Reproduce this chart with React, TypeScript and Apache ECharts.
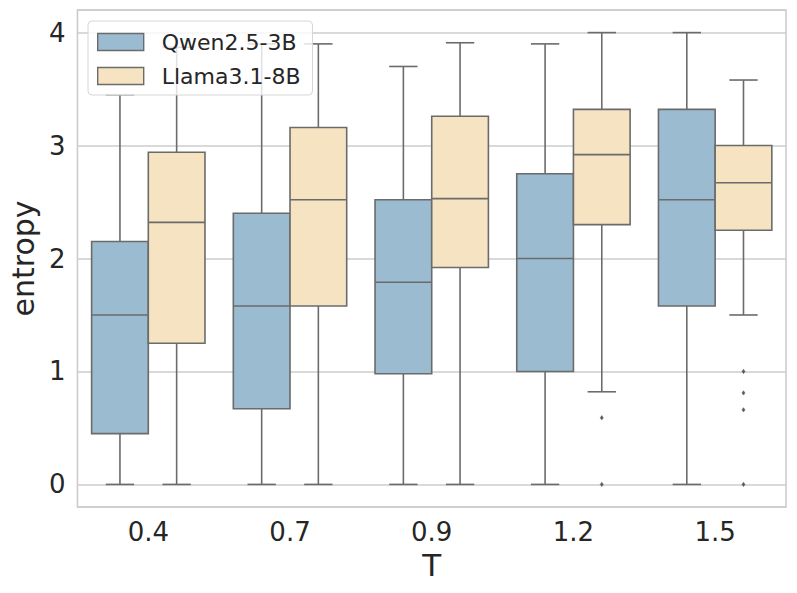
import React, { useEffect, useRef } from "react";
import * as echarts from "echarts";

const categories = ["0.4", "0.7", "0.9", "1.2", "1.5"];
const seriesNames = ["Qwen2.5-3B", "Llama3.1-8B"];
// [min, Q1, median, Q3, max] per category
const qwenBoxes = [
  [0, 0.45, 1.5, 2.15, 3.45],
  [0, 0.67, 1.58, 2.4, 3.9],
  [0, 0.98, 1.79, 2.52, 3.7],
  [0, 1.0, 2.0, 2.75, 3.9],
  [0, 1.58, 2.52, 3.32, 4.0],
];
const llamaBoxes = [
  [0, 1.25, 2.32, 2.94, 3.87],
  [0, 1.58, 2.52, 3.16, 3.9],
  [0, 1.92, 2.53, 3.26, 3.91],
  [0.82, 2.3, 2.92, 3.32, 4.0],
  [1.5, 2.25, 2.67, 3.0, 3.58],
];
// [categoryIndex, value]
const qwenOutliers: number[][] = [];
const llamaOutliers = [
  [3, 0.59],
  [3, 0],
  [4, 1.0],
  [4, 0.81],
  [4, 0.66],
  [4, 0],
];

const COLORS = ["#9abbd0", "#f5e3c1"];
const EDGE = "#6b6b6b";
const FONT = "DejaVu Sans";

function boxRender(offsetFrac: number, fill: string) {
  return (params: any, api: any) => {
    const cat = api.value(0);
    const bw = api.size([1, 0])[0];
    const cx = api.coord([cat, 0])[0] + offsetFrac * bw;
    const half = 0.2 * bw;
    const capHalf = 0.1 * bw;
    const y = (i: number) => api.coord([cat, api.value(i)])[1];
    const yMin = y(1), yQ1 = y(2), yMed = y(3), yQ3 = y(4), yMax = y(5);
    const ls = { stroke: EDGE, lineWidth: 1.6 };
    return {
      type: "group",
      children: [
        { type: "line", shape: { x1: cx, y1: yQ1, x2: cx, y2: yMin }, style: ls },
        { type: "line", shape: { x1: cx, y1: yQ3, x2: cx, y2: yMax }, style: ls },
        { type: "line", shape: { x1: cx - capHalf, y1: yMin, x2: cx + capHalf, y2: yMin }, style: ls },
        { type: "line", shape: { x1: cx - capHalf, y1: yMax, x2: cx + capHalf, y2: yMax }, style: ls },
        {
          type: "rect",
          shape: { x: cx - half, y: yQ3, width: 2 * half, height: yQ1 - yQ3 },
          style: { fill, stroke: EDGE, lineWidth: 1.6 },
        },
        { type: "line", shape: { x1: cx - half, y1: yMed, x2: cx + half, y2: yMed }, style: ls },
      ],
    };
  };
}

function outlierRender(offsetFrac: number) {
  return (params: any, api: any) => {
    const cat = api.value(0);
    const bw = api.size([1, 0])[0];
    const p = api.coord([cat, api.value(1)]);
    const cx = p[0] + offsetFrac * bw;
    const cy = p[1];
    const r = 2.2;
    return {
      type: "polygon",
      shape: { points: [[cx, cy - r], [cx + r * 0.7, cy], [cx, cy + r], [cx - r * 0.7, cy]] },
      style: { fill: "#5a5a5a", stroke: "#5a5a5a", lineWidth: 0.5 },
    };
  };
}

export default function App() {
  const ref = useRef<HTMLDivElement>(null);
  useEffect(() => {
    if (!ref.current) return;
    const chart = echarts.init(ref.current, undefined, { renderer: "svg" });
    const toData = (boxes: number[][]) => boxes.map((b, i) => [i, ...b]);
    chart.setOption({
      animation: false,
      backgroundColor: "#ffffff",
      grid: {
        left: 77,
        top: 10,
        right: 11,
        bottom: 86,
        show: true,
        borderColor: "#cccccc",
        borderWidth: 1.6,
      },
      legend: {
        orient: "vertical",
        left: 88,
        top: 21,
        padding: [10, 12, 8, 9],
        itemWidth: 46,
        itemHeight: 17,
        itemGap: 12,
        backgroundColor: "rgba(255,255,255,0.8)",
        borderColor: "#d6d6d6",
        borderWidth: 1,
        borderRadius: 4,
        textStyle: { fontFamily: FONT, fontSize: 22, color: "#262626", padding: [0, 0, 0, 13], lineHeight: 21 },
        data: seriesNames.map((n, i) => ({
          name: n,
          icon: "rect",
          itemStyle: { color: COLORS[i], borderColor: EDGE, borderWidth: 1.4 },
        })),
      },
      xAxis: {
        type: "category",
        data: categories,
        boundaryGap: true,
        axisLine: { show: false },
        axisTick: { show: false },
        splitLine: { show: false },
        axisLabel: { fontFamily: FONT, fontSize: 26, color: "#262626", margin: 12 },
        name: "T",
        nameLocation: "middle",
        nameGap: 42,
        nameTextStyle: { fontFamily: FONT, fontSize: 31, color: "#262626" },
      },
      yAxis: {
        type: "value",
        min: -0.2,
        max: 4.2,
        axisLine: { show: false },
        axisTick: { show: false },
        splitLine: { show: true, lineStyle: { color: "#cccccc", width: 1.6 } },
        axisLabel: {
          fontFamily: FONT,
          fontSize: 26,
          color: "#262626",
          margin: 12,
          showMinLabel: false,
          showMaxLabel: false,
          formatter: (v: number) => (Math.abs(v - Math.round(v)) < 1e-9 ? String(Math.round(v)) : ""),
        },
        name: "entropy",
        nameLocation: "middle",
        nameGap: 34,
        nameTextStyle: { fontFamily: FONT, fontSize: 30, color: "#262626" },
      },
      series: [
        {
          name: seriesNames[0],
          type: "custom",
          itemStyle: { color: COLORS[0] },
          renderItem: boxRender(-0.2, COLORS[0]),
          encode: { x: 0, y: [1, 2, 3, 4, 5] },
          data: toData(qwenBoxes),
          z: 3,
        },
        {
          name: seriesNames[1],
          type: "custom",
          itemStyle: { color: COLORS[1] },
          renderItem: boxRender(0.2, COLORS[1]),
          encode: { x: 0, y: [1, 2, 3, 4, 5] },
          data: toData(llamaBoxes),
          z: 3,
        },
        {
          name: seriesNames[0] + "-out",
          type: "custom",
          renderItem: outlierRender(-0.2),
          encode: { x: 0, y: 1 },
          data: qwenOutliers,
          z: 3,
        },
        {
          name: seriesNames[1] + "-out",
          type: "custom",
          renderItem: outlierRender(0.2),
          encode: { x: 0, y: 1 },
          data: llamaOutliers,
          z: 3,
        },
      ],
    });
    return () => chart.dispose();
  }, []);
  return (
    <div
      ref={ref}
      style={{ position: "fixed", left: 0, top: 0, width: 797, height: 593, background: "#fff" }}
    />
  );
}
